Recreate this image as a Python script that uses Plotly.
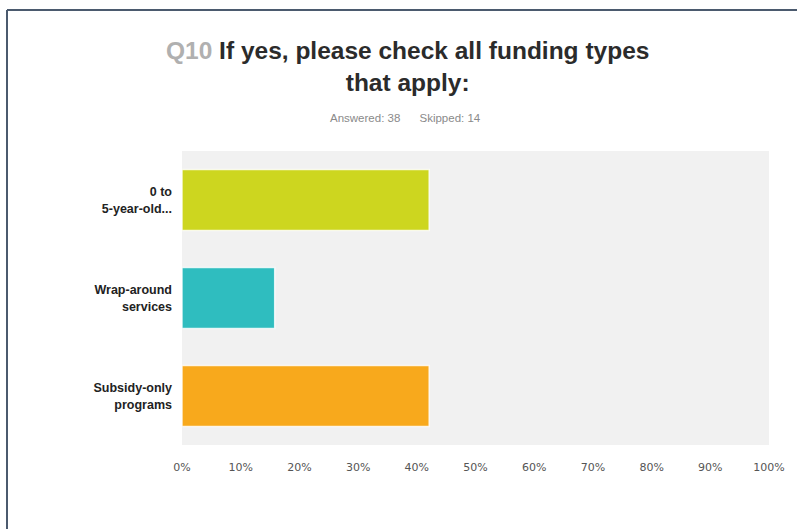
import plotly.graph_objects as go

# Survey responses (share of respondents choosing each funding type)
categories = ["<b>0 to</b><br><b>5-year-old...</b>", "<b>Wrap-around</b><br><b>services</b>", "<b>Subsidy-only</b><br><b>programs</b>"]
shares = [0.4211, 0.1579, 0.4211]
bar_colors = ["#cdd61f", "#2fbdbf", "#f8a91c"]
tick_values = [0, 0.1, 0.2, 0.3, 0.4, 0.5, 0.6, 0.7, 0.8, 0.9, 1.0]
tick_labels = ["0%", "10%", "20%", "30%", "40%", "50%", "60%", "70%", "80%", "90%", "100%"]

fig = go.Figure(
    go.Bar(
        x=shares,
        y=categories,
        orientation="h",
        marker=dict(color=bar_colors, line=dict(color="rgba(255,255,255,0.8)", width=1.5)),
        width=0.62,
        hoverinfo="x+y",
    )
)

fig.update_layout(
    width=797,
    height=529,
    margin=dict(l=182, r=28, t=151, b=84),
    paper_bgcolor="white",
    plot_bgcolor="#f1f1f1",
    showlegend=False,
    font=dict(family="Liberation Sans, Arial, sans-serif", color="#333333"),
    xaxis=dict(
        range=[0, 1],
        tickvals=tick_values,
        ticktext=tick_labels,
        showgrid=False,
        zeroline=False,
        showline=False,
        ticks="",
        ticklabelstandoff=14,
        tickfont=dict(size=11, color="#555555", family="DejaVu Sans, sans-serif"),
        fixedrange=True,
    ),
    yaxis=dict(
        autorange="reversed",
        showgrid=False,
        zeroline=False,
        showline=False,
        ticks="",
        ticklabelstandoff=9,
        tickfont=dict(size=12.5, color="#222222", family="Liberation Sans, Arial, sans-serif"),
        fixedrange=True,
    ),
    annotations=[
        dict(
            text="<b><span style='color:#b0b0b0'>Q10</span> If yes, please check all funding types</b><br><b>that apply:</b>",
            x=407, y=66, xref="paper", yref="paper",
            showarrow=False, align="center",
            font=dict(size=24.5, color="#2b2b2b"),
        ),
        dict(
            text="Answered: 38      Skipped: 14",
            x=405, y=118, xref="paper", yref="paper",
            showarrow=False,
            font=dict(size=11.5, color="#8a8a8a"),
        ),
    ],
)

# Place annotations in pixel terms by converting to paper coordinates
pw = 797 - 182 - 28
ph = 529 - 151 - 84
for ann in fig.layout.annotations:
    px, py = ann.x, ann.y
    ann.x = (px - 182) / pw
    ann.y = 1 - (py - 151) / ph
    ann.xanchor = "center"
    ann.yanchor = "middle"

# Dark frame along the top and left edges of the page
fig.add_shape(type="line", xref="paper", yref="paper",
              x0=(7 - 182) / pw, x1=(800 - 182) / pw,
              y0=1 - (10 - 151) / ph, y1=1 - (10 - 151) / ph,
              line=dict(color="#4b5a6e", width=2))
fig.add_shape(type="line", xref="paper", yref="paper",
              x0=(7 - 182) / pw, x1=(7 - 182) / pw,
              y0=1 - (10 - 151) / ph, y1=1 - (535 - 151) / ph,
              line=dict(color="#4b5a6e", width=2))

fig.write_html("out.html")
